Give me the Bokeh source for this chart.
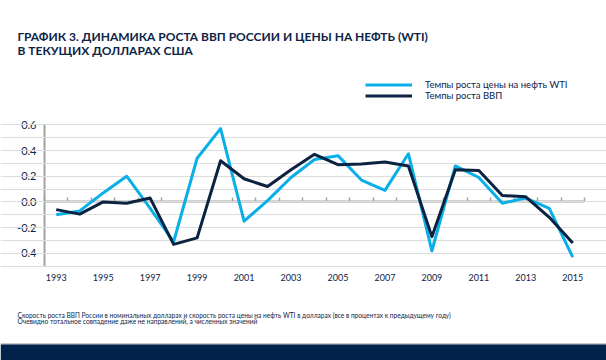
from bokeh.plotting import figure
from bokeh.models import (Label, Legend, LegendItem, LinearAxis, FixedTicker,
                          BoxAnnotation, Grid, Range1d)
from bokeh.embed import file_html
from bokeh.resources import INLINE

# ---- data ----
years = list(range(1993, 2016))
wti_growth = [-0.10, -0.07, 0.07, 0.20, -0.05, -0.31, 0.34, 0.57, -0.15, 0.01,
              0.19, 0.33, 0.36, 0.17, 0.09, 0.375, -0.38, 0.28, 0.19, -0.01,
              0.03, -0.05, -0.43]
gdp_growth = [-0.06, -0.095, 0.00, -0.01, 0.03, -0.33, -0.28, 0.32, 0.18, 0.12,
              0.25, 0.37, 0.29, 0.295, 0.31, 0.28, -0.27, 0.25, 0.245, 0.05,
              0.04, -0.12, -0.32]
x_tick_years = years[::2]
y_ticks = [-0.4, -0.2, 0.0, 0.2, 0.4, 0.6]
y_tick_labels = ["-0.4", "-0.2", "0.0", "0.2", "0.4", "0.6"]
y_grid = [-0.5, -0.4, -0.3, -0.2, -0.1, 0.0, 0.1, 0.2, 0.3, 0.4, 0.5, 0.6]

title_lines = ["ГРАФИК 3. ДИНАМИКА РОСТА ВВП РОССИИ И ЦЕНЫ НА НЕФТЬ (WTI)",
               "В ТЕКУЩИХ ДОЛЛАРАХ США"]
legend_labels = ["Темпы роста цены на нефть WTI", "Темпы роста ВВП"]
note_lines = ["Скорость роста ВВП России в номинальных долларах и скорость роста цены на нефть WTI в долларах (все в процентах к предыдущему году)",
              "Очевидно тотальное совпадение даже не направлений, а численных значений"]

# ---- style / layout ----
NAVY = "#0E2447"
BLUE = "#0AAFE8"
DARK = "#0B2341"
GRID = "#DCDCDC"
AXIS = "#A3A3A3"
FONT = "Lato"
W, H = 606, 360
X0, X1 = years[0] - 0.5, years[-1] + 0.5      # category bounds
Y0, Y1 = -0.5, 0.6
PL, PR, PT, PB = 44.0, 584.0, 124.3, 265.7      # plot-area pixels

sx = (PR - PL) / (X1 - X0)
sy = (PB - PT) / (Y1 - Y0)
def px2x(px):
    return X0 + (px - PL) / sx
def px2y(py):
    return Y1 - (py - PT) / sy

p = figure(width=W, height=H, x_range=Range1d(px2x(0), px2x(W)),
           y_range=Range1d(px2y(H), px2y(0)), x_axis_type=None, y_axis_type=None,
           output_backend="svg", toolbar_location=None, min_border=0,
           outline_line_color=None, background_fill_color="white",
           border_fill_color="white")
p.xgrid.visible = False
p.ygrid.visible = False

# grid lines every 0.1
p.add_layout(Grid(dimension=1, ticker=FixedTicker(ticks=y_grid), bounds=(X0, X1),
                  grid_line_color=GRID, grid_line_width=1))

# y axis
yax = LinearAxis(fixed_location=X0, bounds=(Y0, Y1),
                 ticker=FixedTicker(ticks=y_ticks))
yax.major_label_overrides = dict(zip(y_ticks, y_tick_labels))
yax.axis_line_color = AXIS
yax.axis_line_width = 2
yax.major_tick_line_color = None
yax.major_tick_out = 0
yax.major_tick_in = 0
yax.minor_tick_line_color = None
yax.major_label_standoff = 8
yax.major_label_text_font = FONT
yax.major_label_text_font_size = "11px"
yax.major_label_text_color = NAVY
yax.level = "underlay"
p.add_layout(yax, "left")

# x axis (labels only)
xax = LinearAxis(fixed_location=Y0, bounds=(X0, X1),
                 ticker=FixedTicker(ticks=x_tick_years))
xax.major_label_overrides = {y: str(y) for y in x_tick_years}
xax.axis_line_color = None
xax.major_tick_line_color = None
xax.major_tick_out = 0
xax.major_tick_in = 0
xax.minor_tick_line_color = None
xax.major_label_standoff = 8
xax.major_label_text_font = FONT
xax.major_label_text_font_size = "9px"
xax.major_label_text_color = NAVY
p.add_layout(xax, "below")

# zero axis with category boundary ticks
bounds = [y - 0.5 for y in years] + [years[-1] + 0.5]
zax = LinearAxis(fixed_location=0, bounds=(X0, X1), ticker=FixedTicker(ticks=bounds))
zax.axis_line_color = AXIS
zax.axis_line_width = 2
zax.major_tick_in = 4
zax.major_tick_out = 0
zax.major_tick_line_color = AXIS
zax.major_tick_line_width = 1.5
zax.minor_tick_line_color = None
zax.major_label_text_color = None
zax.major_label_text_font_size = "1px"
zax.level = "underlay"
p.add_layout(zax, "below")

# lines
r_wti = p.line(years, wti_growth, line_color=BLUE, line_width=3, line_join="round")
r_gdp = p.line(years, gdp_growth, line_color=DARK, line_width=3, line_join="round")

legend = Legend(items=[LegendItem(label=legend_labels[0], renderers=[r_wti]),
                       LegendItem(label=legend_labels[1], renderers=[r_gdp])],
                location=(365, H - 100.5), orientation="vertical",
                padding=0, margin=0, spacing=0, glyph_width=47, glyph_height=11,
                label_height=11, label_standoff=13, border_line_color=None,
                background_fill_alpha=0, label_text_font=FONT,
                label_text_font_size="9.5px", label_text_color=NAVY)
p.add_layout(legend, "center")

# title
for t, base in zip(title_lines, [35.5, 49.5]):
    p.add_layout(Label(x=px2x(17), y=px2y(base), text=t, text_font=FONT,
                       text_font_style="bold", text_font_size="12px",
                       text_color=NAVY, text_baseline="alphabetic"))

# footnotes
for t, mid in zip(note_lines, [314.5, 320.5]):
    p.add_layout(Label(x=px2x(17), y=px2y(mid), text=t, text_font=FONT,
                       text_font_size="6.6px", text_color=NAVY,
                       text_baseline="middle"))

# footer band
p.add_layout(BoxAnnotation(top=px2y(343), bottom=px2y(344), fill_color="#8E96A1",
                           fill_alpha=1, line_color=None))
p.add_layout(BoxAnnotation(top=px2y(344), fill_color="#01224A", fill_alpha=1,
                           line_color=None))

open("out.html", "w").write(file_html(p, INLINE))
